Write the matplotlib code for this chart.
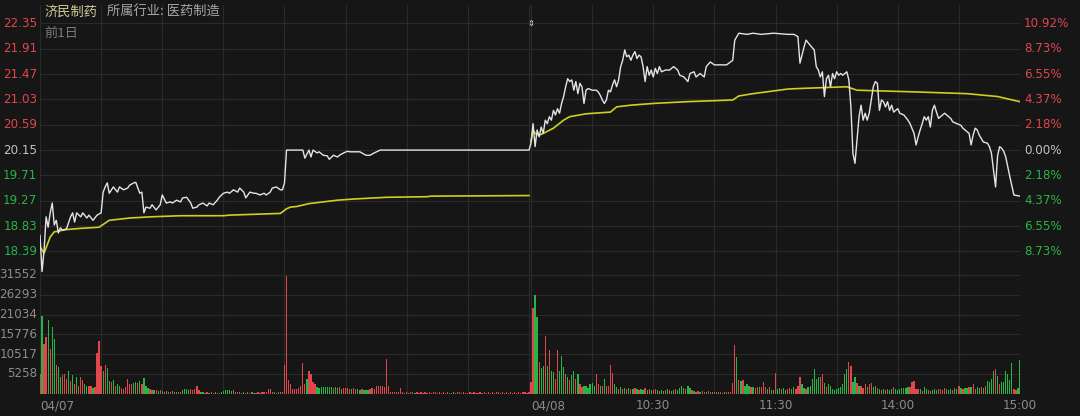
import matplotlib
matplotlib.use('Agg')
import matplotlib.pyplot as plt

# ---- data ----
prev_close = 20.15
day_len = 241  # minute points per trading day

# 04/07 last price (minute index, price)
t07 = [0, 1, 2, 3, 4, 5, 6, 7, 8, 9, 10, 11, 13, 15, 16, 17, 18, 20, 21, 23, 24, 26, 28, 30,
       31, 32, 33, 34, 36, 38, 39, 41, 43, 44, 46, 47, 49, 50, 51, 52, 54, 55, 57, 59, 60, 62,
       64, 65, 67, 69, 70, 72, 74, 75, 77, 78, 80, 82, 83, 85, 87, 88, 90, 92, 93, 95, 97, 98,
       100, 101, 103, 105, 106, 108, 110, 111, 113, 114, 116, 118, 119, 120, 121, 129, 130, 132,
       133, 134, 136, 137, 139, 141, 142, 144, 146, 147, 149, 151, 152, 157, 160, 162, 164, 167, 240]
p07 = [18.67, 18.04, 18.41, 18.99, 18.81, 19.06, 19.23, 18.85, 18.93, 18.71, 18.80, 18.76, 18.78,
       18.99, 19.06, 18.90, 19.06, 18.99, 19.06, 18.97, 19.02, 18.93, 19.02, 19.06, 19.42, 19.51,
       19.58, 19.40, 19.51, 19.42, 19.51, 19.46, 19.49, 19.54, 19.58, 19.59, 19.40, 19.42, 19.06,
       19.16, 19.14, 19.20, 19.11, 19.20, 19.37, 19.23, 19.25, 19.23, 19.28, 19.25, 19.32, 19.33,
       19.23, 19.14, 19.16, 19.20, 19.23, 19.18, 19.23, 19.20, 19.28, 19.33, 19.40, 19.42, 19.40,
       19.46, 19.42, 19.49, 19.42, 19.32, 19.42, 19.40, 19.40, 19.37, 19.40, 19.37, 19.42, 19.49,
       19.51, 19.46, 19.46, 19.58, 20.15, 20.15, 20.01, 20.15, 20.03, 20.15, 20.10, 20.12, 20.06,
       20.05, 19.99, 20.06, 20.03, 20.06, 20.10, 20.13, 20.12, 20.12, 20.06, 20.06, 20.10, 20.15, 20.15]

# 04/07 average price
a07_t = [0, 2, 5, 7, 10, 13, 20, 29, 34, 44, 54, 69, 90, 93, 118, 121, 123, 126, 132, 146, 154,
         170, 190, 192, 240]
a07_p = [18.47, 18.36, 18.64, 18.73, 18.75, 18.77, 18.79, 18.81, 18.93, 18.97, 18.99, 19.01, 19.01,
         19.02, 19.05, 19.13, 19.16, 19.17, 19.22, 19.28, 19.30, 19.33, 19.34, 19.35, 19.36]

# 04/08 last price
t08 = [0, 1, 2, 3, 4, 5, 6, 7, 8, 9, 10, 11, 12, 13, 14, 15, 16, 17, 18, 19, 20, 21, 22, 23, 24,
       25, 26, 27, 28, 30, 32, 33, 34, 35, 36, 37, 38, 39, 40, 41, 42, 43, 44, 45, 46, 47, 48, 49,
       50, 51, 52, 53, 54, 55, 56, 57, 58, 59, 60, 61, 62, 63, 64, 66, 68, 70, 72, 73, 75, 77, 78,
       80, 81, 83, 85, 86, 88, 90, 93, 96, 99, 100, 102, 106, 109, 113, 119, 126, 129, 131, 132,
       134, 135, 137, 139, 140, 141, 142, 143, 144, 145, 146, 147, 148, 149, 150, 151, 152, 153,
       154, 155, 156, 157, 158, 159, 160, 161, 162, 163, 164, 165, 166, 167, 168, 169, 170, 171,
       172, 173, 174, 175, 176, 177, 178, 180, 181, 183, 185, 186, 188, 189, 190, 191, 192, 193,
       194, 195, 196, 197, 198, 199, 200, 201, 203, 204, 206, 207, 209, 211, 212, 214, 215, 216,
       217, 218, 219, 220, 221, 222, 224, 225, 226, 227, 228, 229, 230, 231, 232, 233, 234, 235,
       237, 240]
p08 = [20.27, 20.61, 20.21, 20.50, 20.38, 20.55, 20.44, 20.67, 20.61, 20.73, 20.67, 20.84, 20.76,
       20.87, 20.79, 20.96, 21.08, 21.25, 21.39, 21.34, 21.37, 21.19, 21.34, 21.13, 21.31, 21.25,
       20.96, 21.19, 21.22, 21.19, 21.19, 21.16, 21.10, 21.02, 20.96, 21.02, 21.19, 21.16, 21.28,
       21.37, 21.25, 21.37, 21.60, 21.71, 21.89, 21.77, 21.80, 21.71, 21.80, 21.86, 21.74, 21.80,
       21.77, 21.60, 21.34, 21.60, 21.45, 21.54, 21.42, 21.57, 21.48, 21.60, 21.51, 21.54, 21.54,
       21.60, 21.54, 21.45, 21.42, 21.34, 21.48, 21.51, 21.42, 21.48, 21.42, 21.60, 21.68, 21.63,
       21.63, 21.63, 21.71, 22.06, 22.18, 22.16, 22.18, 22.16, 22.18, 22.16, 22.16, 22.12, 21.66,
       21.94, 22.06, 21.97, 21.89, 21.60, 21.54, 21.42, 21.51, 21.08, 21.39, 21.45, 21.25, 21.48,
       21.39, 21.51, 21.45, 21.48, 21.45, 21.48, 21.51, 21.37, 20.90, 20.09, 19.92, 20.32, 20.73,
       20.93, 20.67, 20.79, 20.67, 20.79, 21.02, 21.25, 21.34, 21.31, 20.84, 21.02, 20.99, 20.90,
       20.99, 20.84, 20.93, 20.81, 20.87, 20.79, 20.76, 20.67, 20.61, 20.44, 20.24, 20.38, 20.50,
       20.61, 20.73, 20.67, 20.73, 20.55, 20.84, 20.93, 20.81, 20.70, 20.73, 20.79, 20.76, 20.70,
       20.64, 20.61, 20.58, 20.53, 20.47, 20.44, 20.24, 20.41, 20.53, 20.50, 20.41, 20.35, 20.29,
       20.27, 20.21, 20.09, 19.80, 19.51, 20.05, 20.21, 20.18, 20.13, 20.03, 19.86, 19.69, 19.37,
       19.35]

# 04/08 average price
a08_t = [0, 1, 2, 4, 6, 11, 16, 19, 27, 39, 42, 49, 60, 76, 99, 102, 109, 126, 132, 155, 160,
         189, 214, 229, 240]
a08_p = [20.30, 20.50, 20.44, 20.41, 20.44, 20.53, 20.67, 20.73, 20.78, 20.81, 20.90, 20.93, 20.96,
         20.99, 21.02, 21.09, 21.13, 21.21, 21.22, 21.25, 21.19, 21.16, 21.13, 21.08, 20.99]

# per-minute volume, 04/07
vol07 = [5200, 20600, 13300, 15000, 19700, 11900, 17700, 14600, 7700, 7000,
         4400, 4800, 5300, 3900, 6100, 3300, 4800, 2600, 4400, 2100,
         4400, 3500, 2400, 1900, 2100, 2000, 1400, 1800, 10800, 14000,
         7200, 6100, 7700, 6900, 3300, 3000, 3500, 2100, 2400, 2000,
         1500, 1200, 1700, 3900, 2600, 2400, 2800, 3000, 2800, 3300,
         2400, 4200, 1900, 1500, 1200, 1000, 800, 900, 700, 800,
         600, 500, 700, 400, 500, 600, 400, 300, 500, 400,
         900, 1200, 1100, 1000, 1200, 900, 1200, 1900, 800, 500,
         300, 200, 300, 200, 400, 200, 300, 200, 200, 300,
         700, 900, 1000, 800, 600, 900, 500, 400, 300, 200,
         300, 200, 300, 200, 300, 200, 200, 300, 200, 300,
         300, 400, 1200, 1300, 500, 300, 200, 300, 400, 300,
         7700, 31300, 3500, 2400, 1200, 1200, 1200, 1400, 1900, 8200,
         2400, 3800, 5900, 5300, 3000, 2400, 1800, 1500, 1700, 1600,
         1800, 1700, 1600, 1800, 1500, 1700, 1400, 1600, 1200, 1500,
         1400, 1500, 1300, 1200, 1500, 1100, 1300, 1000, 1200, 900,
         1000, 800, 1200, 1500, 1300, 1900, 2000, 2100, 2100, 1600,
         9300, 2000, 400, 300, 300, 400, 300, 1500, 300, 200,
         300, 200, 300, 400, 200, 300, 200, 300, 200, 300,
         200, 300, 200, 300, 400, 200, 300, 200, 300, 200,
         300, 200, 200, 300, 200, 300, 400, 200, 300, 200,
         200, 300, 200, 300, 200, 200, 300, 200, 300, 200,
         300, 200, 300, 200, 400, 300, 200, 300, 200, 300,
         200, 300, 200, 300, 200, 300, 200, 300, 300, 200,
         300]
up07 = ("RGRRGRGGRG" "GRRRGRGRGR" "RRGGRRGRRR" "RGRGGRGRGG" "RRRRRRGGRG"
        "RGGGRRGRGR" "GRGRRGRGRR" "GGGGRRRRRG" "GRRGRRGRRG" "GGGGGRGRRG"
        "GGRRGRGRRR" "RRRRRGRRGR" "RRRRRRRRRR" "RGRRRRGGGG" "GGGGRGGRGR"
        "RRRGRRGGRG" "GGRRRRRRRR" "RRRRRRRRRR" "RRRRGRRRRR" "RRRRRRRRRR"
        "RRRGRRRRRR" "RRRRRRRRRR" "RRRRRRGRRR" "RRRRRRRRRR" "R")

# per-minute volume, 04/08
vol08 = [3000, 22800, 26200, 20400, 8300, 6900, 7200, 15200, 7400, 11500,
         6100, 5700, 3900, 11700, 6000, 9900, 7000, 5100, 4400, 3500,
         4800, 5900, 3900, 5300, 2400, 1600, 2100, 1900, 1400, 2600,
         2800, 2100, 5300, 2400, 2100, 2100, 3900, 2100, 1900, 7700,
         5400, 2400, 1600, 1200, 1600, 1200, 1400, 1200, 1400, 1300,
         1100, 1500, 1200, 900, 1300, 1000, 1400, 800, 1200, 1000,
         800, 1200, 900, 700, 1000, 600, 800, 1100, 900, 600,
         800, 1300, 1000, 1500, 1900, 1400, 1200, 1900, 1400, 900,
         600, 500, 700, 400, 600, 500, 400, 600, 500, 300,
         400, 300, 500, 300, 200, 300, 400, 300, 500, 2700,
         12800, 9700, 3600, 3300, 3500, 2100, 2600, 2100, 1600, 1800,
         1400, 1800, 1600, 1800, 3000, 1600, 1200, 1600, 1000, 800,
         5400, 1200, 1400, 1200, 1400, 900, 1200, 1400, 1200, 1600,
         1200, 2100, 4500, 2400, 1400, 1200, 1800, 2100, 3900, 6600,
         3900, 4400, 4500, 5300, 2700, 1800, 2400, 2100, 1200, 900,
         1200, 1400, 1800, 2400, 5300, 6600, 8400, 7200, 3000, 4400,
         2700, 2100, 2100, 1400, 2500, 1800, 2400, 2700, 1800, 2100,
         1400, 1200, 900, 1200, 900, 1200, 900, 1200, 1800, 1200,
         900, 1200, 1400, 1500, 1500, 1600, 1600, 3000, 3200, 1200,
         1200, 1200, 700, 1800, 1200, 900, 700, 900, 1200, 900,
         1200, 1200, 900, 1400, 1200, 900, 1200, 900, 1400, 1200,
         2100, 1400, 1200, 1400, 1400, 1600, 1800, 2500, 1200, 1600,
         1400, 1800, 1500, 2000, 3400, 3000, 3900, 6100, 6600, 4700,
         2500, 3000, 3000, 6100, 5200, 3500, 8100, 1200, 1000, 1500,
         9000]
up08 = ("RRGGRGGRGR" "GGRRGGGRGR" "GGRGRRGGGG" "GGRRGRGRRR" "RGGRGRGRGR"
        "GRGRGGRGRG" "RRGRGGRGRG" "GRGGGGRGGR" "GRRGRRGRRG" "RRGRRGRRRR"
        "RGRGRGGGRG" "RRGRRRGRGG" "RGGRGGRRGG" "RRRGGRGGGG" "GGRRGRGGGG"
        "GGGGGGRRGG" "RGRRRGRRGG" "RGRGGRGGRG" "GGGGGGRRRR" "RGRGGRGGGG"
        "RRRRGGGRGG" "RGRGGRGRRG" "GRGRGGGGRG" "RGGGGGGRRG" "G")

price_ticks = [22.35, 21.91, 21.47, 21.03, 20.59, 20.15, 19.71, 19.27, 18.83, 18.39]
vol_max = 31552
vol_ticks = [int(vol_max * k / 6) for k in range(1, 7)]
x_ticks = [0, 241, 301, 361, 421, 481]
x_labels = ['04/07', '04/08', '10:30', '11:30', '14:00', '15:00']

# ---- style ----
BG = '#161616'
GRID = '#2a2a2a'
RED = '#e0474c'
GREEN = '#27b545'
GREY = '#8c8c8c'
CJK = ['Noto Sans CJK SC', 'DejaVu Sans']
plt.rcParams['font.family'] = ['DejaVu Sans']
FS = 8.6

W, H = 1080, 416
fig = plt.figure(figsize=(W / 100, H / 100), dpi=100, facecolor=BG)
axp = fig.add_axes([40 / W, (H - 273) / H, 980 / W, 268 / H])
axv = fig.add_axes([40 / W, (H - 393.5) / H, 980 / W, 120.5 / H])

n_total = 2 * day_len - 1
for ax in (axp, axv):
    ax.set_facecolor(BG)
    ax.set_xlim(0, n_total)
    for s in ax.spines.values():
        s.set_visible(False)
    ax.set_xticks([])
    ax.set_yticks([])
    for d in range(2):
        for k in range(0, day_len, 30):
            ax.axvline(d * day_len + k, color=GRID, lw=0.8, zorder=0)

axp.set_ylim(18.015, 22.67)
axv.set_ylim(0, vol_max * 120.5 / 118.5)

for p in price_ticks:
    axp.axhline(p, color=GRID, lw=0.8, zorder=0)
for v in vol_ticks:
    axv.axhline(v, color=GRID, lw=0.8, zorder=0)

# price lines
x08 = [t + day_len for t in t08]
axp.plot(t07 + x08, p07 + p08, color='#e4e4e4', lw=1.0, zorder=3)
axp.plot(a07_t, a07_p, color='#cfcf1e', lw=1.2, zorder=2)
axp.plot([t + day_len for t in a08_t], a08_p, color='#cfcf1e', lw=1.2, zorder=2)

# volume bars (no antialiasing so neighbouring red/green bars don't blend)
xs07 = list(range(len(vol07)))
xs08 = [i + day_len for i in range(len(vol08))]
axv.bar(xs07, vol07, width=0.62, color=[RED if c == 'R' else GREEN for c in up07],
        lw=0, antialiased=False)
axv.bar(xs08, vol08, width=0.62, color=[RED if c == 'R' else GREEN for c in up08],
        lw=0, antialiased=False)

# axis labels
for p in price_ticks:
    if p > prev_close + 1e-6:
        c = RED
    elif p < prev_close - 1e-6:
        c = GREEN
    else:
        c = '#c4c4c4'
    axp.annotate(f'{p:.2f}', xy=(0, p), xycoords=('axes fraction', 'data'),
                 xytext=(-2, 0), textcoords='offset points', ha='right', va='center',
                 color=c, fontsize=FS)
    pct = abs(p / prev_close - 1) * 100
    axp.annotate(f'{pct:.2f}%', xy=(1, p), xycoords=('axes fraction', 'data'),
                 xytext=(3, 0), textcoords='offset points', ha='left', va='center',
                 color=c, fontsize=FS)

for v in vol_ticks:
    axv.annotate(str(v), xy=(0, v), xycoords=('axes fraction', 'data'),
                 xytext=(-2, 0), textcoords='offset points', ha='right', va='center',
                 color=GREY, fontsize=FS)

for i, (xt, lab) in enumerate(zip(x_ticks, x_labels)):
    axv.annotate(lab, xy=(xt, 0), xycoords=('data', 'axes fraction'),
                 xytext=(0, -4), textcoords='offset points',
                 ha='left' if i < 2 else 'center', va='top', color=GREY, fontsize=FS)

# day separator marker
axp.annotate('⇕', xy=(day_len, price_ticks[0]), ha='center', va='center',
             color='#dddddd', fontsize=6)

# header
fig.text(44 / W, 1 - 12 / H, '济民制药', family=CJK, color='#cfcf9c', fontsize=9.5, va='center')
fig.text(107 / W, 1 - 12 / H, '所属行业: 医药制造', family=CJK, color='#a6a6a6', fontsize=9.5,
         va='center')
fig.text(44 / W, 1 - 33 / H, '前1日', family=CJK, color='#7a7a7a', fontsize=9.5, va='center')

fig.savefig('out.png', dpi=100, facecolor=BG)
